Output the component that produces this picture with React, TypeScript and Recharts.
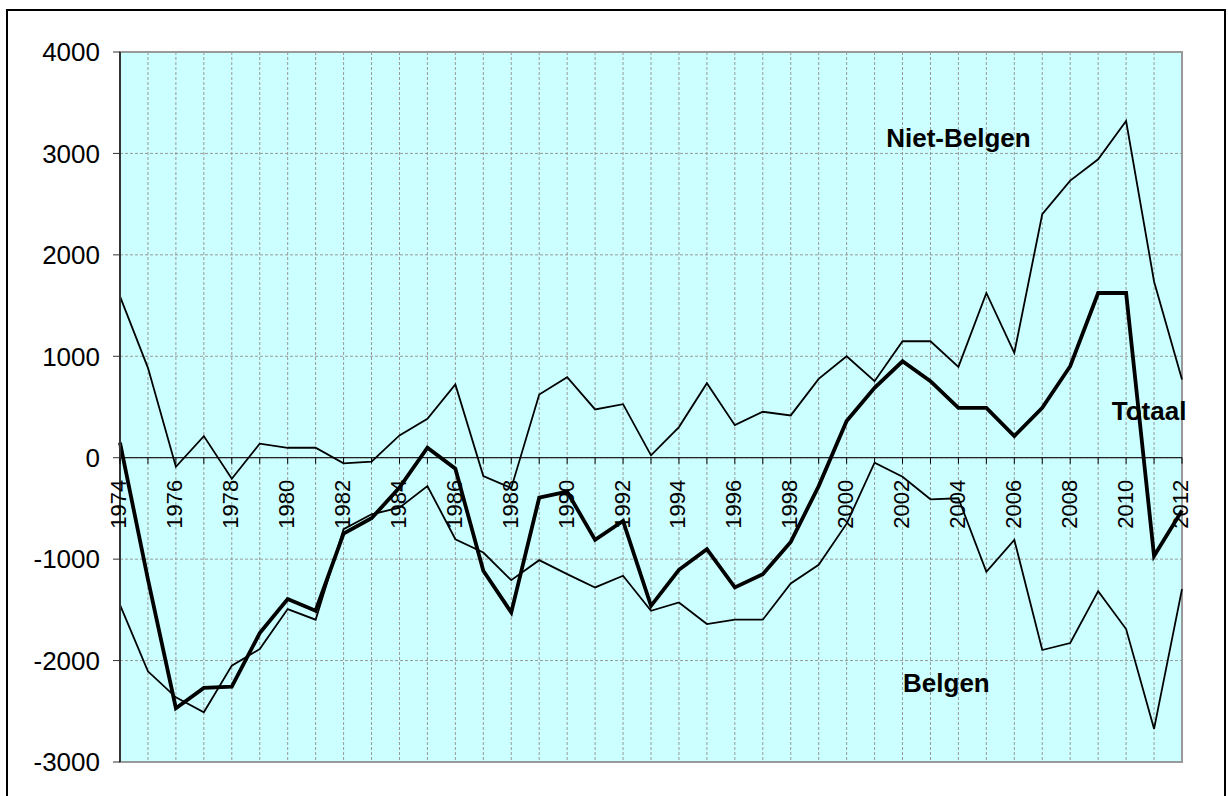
import React from "react";
import {
  CartesianGrid,
  Line,
  LineChart,
  ReferenceArea,
  ReferenceDot,
  ReferenceLine,
  XAxis,
  YAxis,
} from "recharts";

const years = [
  "1974", "1975", "1976", "1977", "1978", "1979", "1980", "1981", "1982", "1983",
  "1984", "1985", "1986", "1987", "1988", "1989", "1990", "1991", "1992", "1993",
  "1994", "1995", "1996", "1997", "1998", "1999", "2000", "2001", "2002", "2003",
  "2004", "2005", "2006", "2007", "2008", "2009", "2010", "2011", "2012",
];

const nietBelgen = [
  1590, 886, -89, 213, -207, 138, 98, 98, -56, -39, 220, 384, 722,
  -180, -300, 623, 794, 476, 528, 23, 302, 735, 321, 453, 417, 777, 1000, 754,
  1148, 1148, 895, 1624, 1033, 2401, 2732, 2942, 3319, 1738, 771,
];

const belgen = [
  -1450, -2106, -2362, -2509, -2050, -1886, -1492, -1597, -705, -558, -492, -279, -804,
  -935, -1207, -1010, -1148, -1279, -1164, -1509, -1427, -1640, -1597, -1597, -1240, -1056, -650, -49,
  -187, -410, -400, -1125, -810, -1896, -1827, -1315, -1689, -2673, -1296,
];

const totaal = [
  148, -1200, -2470, -2270, -2257, -1729, -1394, -1509, -748, -597, -295, 98, -108,
  -1115, -1525, -394, -335, -810, -623, -1460, -1105, -902, -1279, -1148, -830, -280, 361, 689,
  951, 754, 492, 492, 213, 492, 902, 1624, 1624, -968, -520,
];

const yTicks = [-3000, -2000, -1000, 0, 1000, 2000, 3000, 4000];

const data = years.map((year, i) => ({
  year,
  niet: nietBelgen[i],
  belgen: belgen[i],
  totaal: totaal[i],
}));

const FONT = '"Liberation Sans", Arial, sans-serif';
const W = 1228;
const H = 796;
const MARGIN = { top: 52, right: 46, left: 0, bottom: 4 };
const X_AXIS_H = 30;
const Y_MIN = -3000;
const Y_MAX = 4000;
const PLOT_TOP = MARGIN.top;
const PLOT_H = H - MARGIN.top - MARGIN.bottom - X_AXIS_H;
// the category axis crosses at zero, as in the original spreadsheet chart
const ZERO_Y = PLOT_TOP + (PLOT_H * Y_MAX) / (Y_MAX - Y_MIN);

function YearTick(props: any) {
  const { x, payload, index } = props;
  const ty = ZERO_Y + 22;
  return (
    <g>
      <line x1={x} x2={x} y1={ZERO_Y} y2={ZERO_Y + 6} stroke="#000" strokeWidth={1} />
      {index % 2 === 0 && (
        <text
          x={x - 1}
          y={ty}
          transform={`rotate(-90, ${x - 1}, ${ty})`}
          textAnchor="end"
          dominantBaseline="central"
          fontSize={22}
          fontFamily={FONT}
          fill="#000"
        >
          {payload.value}
        </text>
      )}
    </g>
  );
}

const labelStyle = {
  position: "center" as const,
  fontSize: 26,
  fontWeight: "bold",
  fill: "#000",
  fontFamily: FONT,
};

export default function App() {
  return (
    <div
      style={{
        position: "absolute",
        left: 0,
        top: 0,
        width: W,
        height: H,
        overflow: "hidden",
        background: "#fff",
        fontFamily: FONT,
      }}
    >
      <div
        style={{
          position: "absolute",
          left: 6,
          top: 9,
          width: 1220,
          height: 820,
          border: "2px solid #000",
          boxSizing: "border-box",
        }}
      />
      <div style={{ position: "absolute", left: 0, top: 0 }}>
        <LineChart width={W} height={H} data={data} margin={MARGIN}>
          <CartesianGrid
            strokeDasharray="3 2"
            stroke="#999"
            fill="#ccffff"
            fillOpacity={1}
          />
          <XAxis
            dataKey="year"
            interval={0}
            height={X_AXIS_H}
            axisLine={false}
            tickLine={false}
            tick={<YearTick />}
          />
          <YAxis
            type="number"
            domain={[Y_MIN, Y_MAX]}
            ticks={yTicks}
            width={120}
            tickSize={7}
            tickMargin={13}
            axisLine={{ stroke: "#333", strokeWidth: 2 }}
            tickLine={{ stroke: "#333" }}
            tick={{ fontSize: 26, fill: "#000", fontFamily: FONT }}
          />
          <ReferenceArea
            x1="1974"
            x2="2012"
            y1={Y_MIN}
            y2={Y_MAX}
            fill="none"
            stroke="#999"
            strokeWidth={2}
          />
          <ReferenceLine y={0} stroke="#222" strokeWidth={1.3} />
          <Line
            dataKey="niet"
            stroke="#000"
            strokeWidth={1.8}
            dot={false}
            isAnimationActive={false}
          />
          <Line
            dataKey="belgen"
            stroke="#000"
            strokeWidth={1.8}
            dot={false}
            isAnimationActive={false}
          />
          <Line
            dataKey="totaal"
            stroke="#000"
            strokeWidth={3.8}
            dot={false}
            isAnimationActive={false}
          />
          <ReferenceDot
            x="2004"
            y={3150}
            r={0}
            fill="none"
            stroke="none"
            label={{ ...labelStyle, value: "Niet-Belgen" }}
          />
          <ReferenceDot
            x="2004"
            y={-2220}
            r={0}
            fill="none"
            stroke="none"
            label={{ ...labelStyle, value: "Belgen", dx: -12 }}
          />
          <ReferenceDot
            x="2011"
            y={465}
            r={0}
            fill="none"
            stroke="none"
            label={{ ...labelStyle, value: "Totaal", dx: -5 }}
          />
        </LineChart>
      </div>
    </div>
  );
}
